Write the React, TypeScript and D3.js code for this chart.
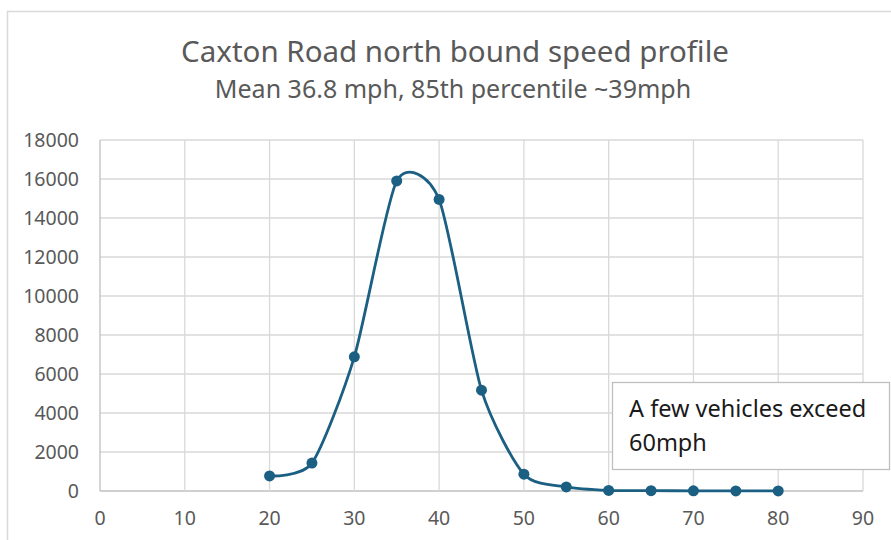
import { curveCardinal, line, scaleLinear } from 'd3'

const speeds = [20, 25, 30, 35, 40, 45, 50, 55, 60, 65, 70, 75, 80]
const vehicleCounts = [770, 1430, 6880, 15900, 14950, 5170, 860, 210, 30, 15, 10, 5, 3]
const xTicks = [0, 10, 20, 30, 40, 50, 60, 70, 80, 90]
const yTicks = [0, 2000, 4000, 6000, 8000, 10000, 12000, 14000, 16000, 18000]

const titleText = 'Caxton Road north bound speed profile'
const subtitleText = 'Mean 36.8 mph, 85th percentile ~39mph'
const noteLines = ['A few vehicles exceed', '60mph']

const width = 891
const height = 540

const plot = {
  left: 100,
  right: 863,
  top: 140,
  bottom: 491,
}

const lineColor = '#1b5f82'
const gridColor = '#d9d9d9'
const labelColor = '#595959'
const font = "'Noto Sans', sans-serif"

function App() {
  const xScale = scaleLinear().domain([0, 90]).range([plot.left, plot.right])
  const yScale = scaleLinear().domain([0, 18000]).range([plot.bottom, plot.top])

  const points = speeds.map((speed, index) => ({ speed, count: vehicleCounts[index] }))

  const profileLine = line<{ speed: number; count: number }>()
    .x((point) => xScale(point.speed))
    .y((point) => yScale(point.count))
    .curve(curveCardinal.tension(0.3))

  const profilePath = profileLine(points) ?? ''

  return (
    <svg
      width={width}
      height={height}
      viewBox={`0 0 ${width} ${height}`}
      style={{ position: 'absolute', left: 0, top: 0, background: '#ffffff' }}
    >
      <rect x={7.5} y={11.5} width={width} height={height} fill="#ffffff" stroke={gridColor} strokeWidth={1.5} />

      <text x={455} y={62} textAnchor="middle" fontFamily={font} fontSize={29.5} fill={labelColor}>
        {titleText}
      </text>
      <text x={453} y={98} textAnchor="middle" fontFamily={font} fontSize={25} fill={labelColor}>
        {subtitleText}
      </text>

      {yTicks.map((tick) => (
        <line
          key={`${tick}-y-grid`}
          x1={plot.left}
          x2={plot.right}
          y1={yScale(tick)}
          y2={yScale(tick)}
          stroke={tick === 0 ? '#bfbfbf' : gridColor}
          strokeWidth={1.3}
        />
      ))}

      {xTicks.map((tick) => (
        <line
          key={`${tick}-x-grid`}
          x1={xScale(tick)}
          x2={xScale(tick)}
          y1={plot.top}
          y2={plot.bottom}
          stroke={tick === 0 ? '#bfbfbf' : gridColor}
          strokeWidth={1.3}
        />
      ))}

      {yTicks.map((tick) => (
        <text
          key={`${tick}-y-label`}
          x={79}
          y={yScale(tick)}
          dy="0.36em"
          textAnchor="end"
          fontFamily={font}
          fontSize={19.5}
          fill={labelColor}
        >
          {tick}
        </text>
      ))}

      {xTicks.map((tick) => (
        <text
          key={`${tick}-x-label`}
          x={xScale(tick)}
          y={525}
          textAnchor="middle"
          fontFamily={font}
          fontSize={19.5}
          fill={labelColor}
        >
          {tick}
        </text>
      ))}

      <path d={profilePath} fill="none" stroke={lineColor} strokeWidth={2.8} />

      {points.map((point) => (
        <circle
          key={`${point.speed}-point`}
          cx={xScale(point.speed)}
          cy={yScale(point.count)}
          r={5.5}
          fill={lineColor}
        />
      ))}

      <rect x={612.5} y={382.5} width={277} height={87} fill="#ffffff" stroke="#bfbfbf" strokeWidth={1.3} />
      {noteLines.map((text, index) => (
        <text
          key={text}
          x={629}
          y={417 + index * 34}
          fontFamily={font}
          fontSize={23.5}
          fill="#1a1a1a"
        >
          {text}
        </text>
      ))}
    </svg>
  )
}

export default App
